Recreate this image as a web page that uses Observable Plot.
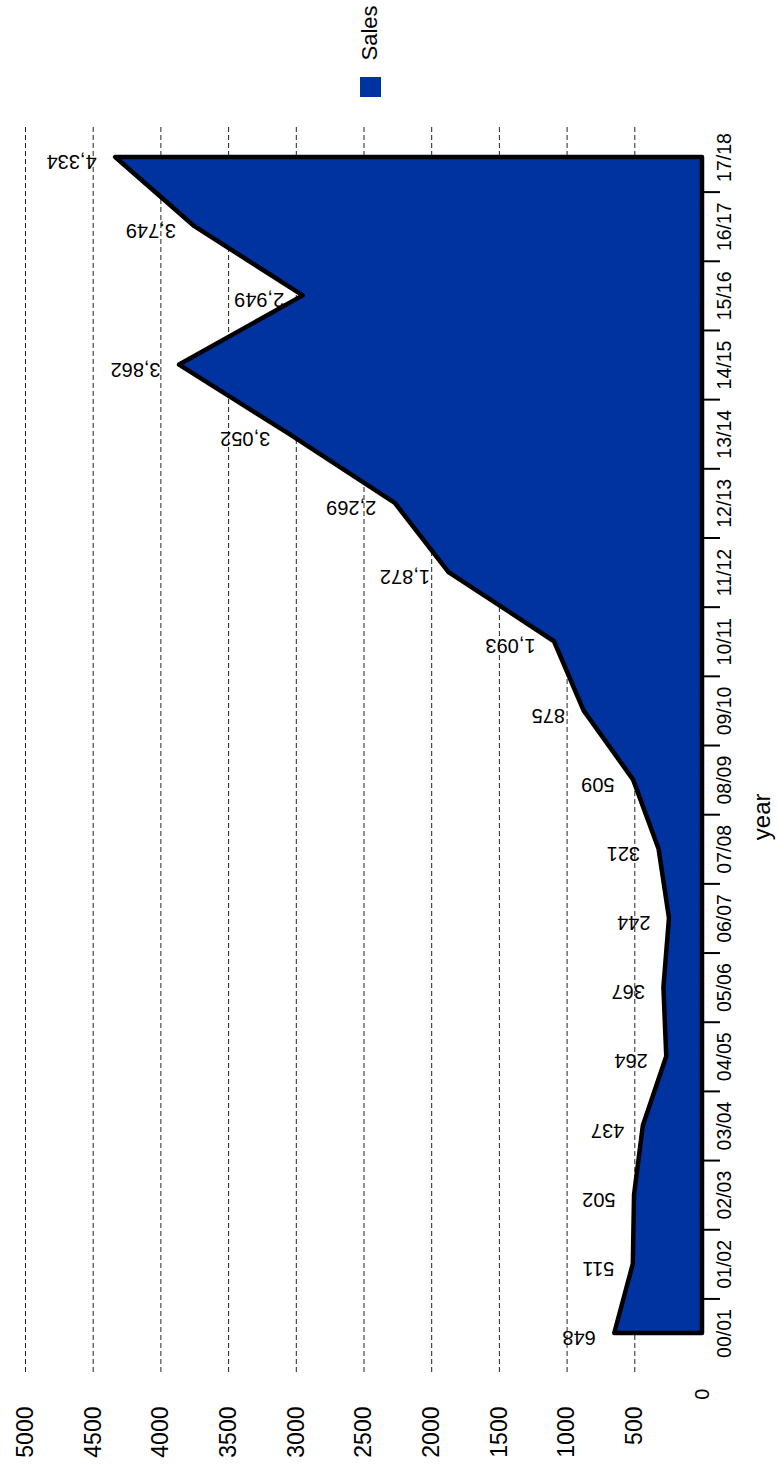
<!DOCTYPE html>
<html>
<head>
<meta charset="utf-8">
<script src="https://cdn.jsdelivr.net/npm/d3@7"></script>
<script src="https://cdn.jsdelivr.net/npm/@observablehq/plot@0.6"></script>
<style>
  body { margin: 0; background: #fff; font-family: "Liberation Sans", Arial, sans-serif; }
  #legend { position: relative; width: 778px; height: 100px; }
  #legend .sw { position: absolute; left: 360px; top: 77px; width: 21px; height: 20px; background: #0033a0; }
  #legend .lt { position: absolute; left: 370px; top: 33px; transform: translate(-50%, -50%) rotate(-90deg);
                font-size: 22px; line-height: 1; color: #000; white-space: nowrap; }
</style>
</head>
<body>
<div id="legend"><div class="sw"></div><div class="lt" id="legendText"></div></div>
<div id="chart"></div>
<script>
const years = ["00/01","01/02","02/03","03/04","04/05","05/06","06/07","07/08","08/09","09/10","10/11","11/12","12/13","13/14","14/15","15/16","16/17","17/18"];
// values as drawn by the area outline
const sales = [648, 511, 502, 437, 264, 285, 244, 321, 509, 875, 1093, 1872, 2269, 3052, 3862, 2949, 3749, 4334];
// values printed next to the points
const salesLabels = [648, 511, 502, 437, 264, 367, 244, 321, 509, 875, 1093, 1872, 2269, 3052, 3862, 2949, 3749, 4334];
const valueTicks = [500, 1000, 1500, 2000, 2500, 3000, 3500, 4000, 4500, 5000];
const zeroTick = [0];
const yearTitle = "year";
const seriesName = "Sales";

document.getElementById("legendText").textContent = seriesName;

const data = years.map((year, i) => ({i, year, value: sales[i], label: d3.format(",")(salesLabels[i])}));
const yearIndex = years.map((_, i) => i);
const boundaries = years.slice(1).map((_, i) => i + 0.5);

const chart = Plot.plot({
  width: 778,
  height: 1369,
  marginLeft: 25,
  marginRight: 76,
  marginTop: 27,
  marginBottom: 94,
  style: {fontFamily: "'Liberation Sans', Arial, sans-serif", fontSize: "20px", background: "#fff", color: "#000"},
  x: {domain: [0, 5000], reverse: true},
  y: {domain: [-0.607, 17.434]},
  marks: [
    Plot.gridX(valueTicks, {stroke: "#222", strokeOpacity: 1, strokeWidth: 1, strokeDasharray: "5,3"}),
    Plot.areaX(data, {y: "i", x: "value", fill: "#0033a0", stroke: "#000", strokeWidth: 4.5}),
    Plot.text(data, {x: "value", y: "i", text: "label", rotate: 180, textAnchor: "start", lineAnchor: "middle",
                     dx: -19, dy: 4, fontSize: 20, fill: "#000"}),
    Plot.axisX(valueTicks, {anchor: "bottom", tickSize: 0, tickPadding: 31, tickRotate: -90,
                     textAnchor: "end", lineAnchor: "middle", fontSize: 23, label: null, tickFormat: d => String(d)}),
    Plot.axisX(zeroTick, {anchor: "bottom", tickSize: 0, tickPadding: 13, tickRotate: -90,
                     textAnchor: "end", lineAnchor: "middle", fontSize: 20, label: null, tickFormat: d => String(d)}),
    Plot.axisY(boundaries, {anchor: "right", tickSize: 17, strokeWidth: 2, stroke: "#000", tickFormat: () => "", label: null}),
    Plot.axisY(yearIndex, {anchor: "right", tickSize: 0, tickPadding: 15, tickRotate: -90,
                     textAnchor: "middle", lineAnchor: "top", fontSize: 19.5, label: null, tickFormat: i => years[i]}),
    Plot.text([yearTitle], {frameAnchor: "right", rotate: -90, dx: 60, dy: 42, fontSize: 24, lineAnchor: "middle", fill: "#000"})
  ]
});
document.getElementById("chart").appendChild(chart);
</script>
</body>
</html>
